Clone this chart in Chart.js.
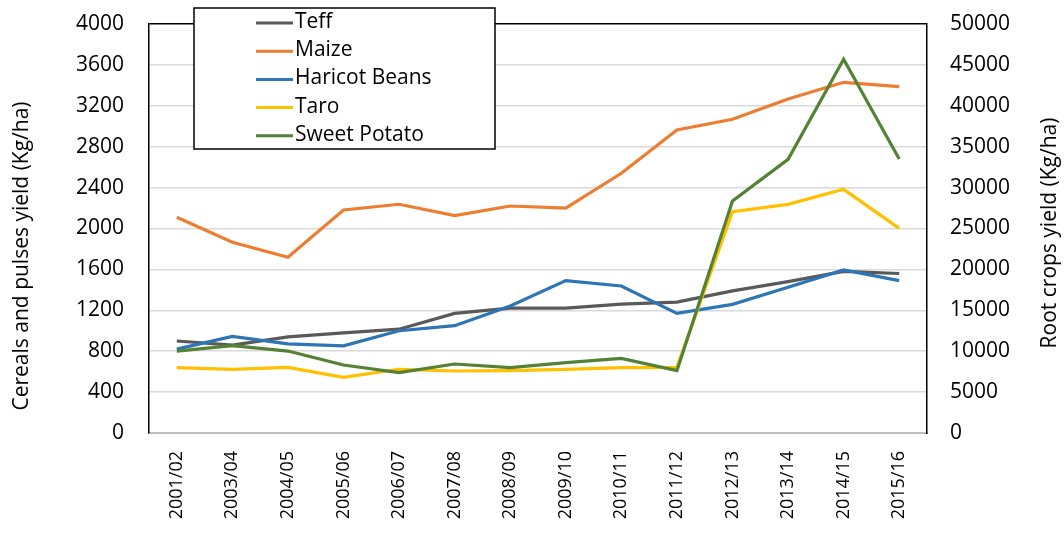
<!DOCTYPE html>
<html>
<head>
<meta charset="utf-8">
<script src="https://cdn.jsdelivr.net/npm/chart.js@4.4.1/dist/chart.umd.min.js"></script>
<style>
  body { margin: 0; background: #fff; }
</style>
</head>
<body>
<canvas id="yieldChart" width="1064" height="539"></canvas>
<script>
// seasons on the x axis
const seasons = ['2001/02', '2003/04', '2004/05', '2005/06', '2006/07', '2007/08', '2008/09',
  '2009/10', '2010/11', '2011/12', '2012/13', '2013/14', '2014/15', '2015/16'];

// cereals and pulses (left axis, Kg/ha)
const teff = [900, 860, 940, 980, 1015, 1170, 1222, 1222, 1260, 1280, 1390, 1480, 1580, 1560];
const maize = [2110, 1865, 1718, 2181, 2237, 2126, 2220, 2200, 2540, 2963, 3068, 3266, 3430, 3387];
const haricotBeans = [820, 945, 872, 852, 1000, 1050, 1242, 1490, 1438, 1170, 1258, 1425, 1594, 1490];

// root crops (right axis, Kg/ha)
const taro = [7980, 7790, 8030, 6810, 7790, 7580, 7620, 7790, 7980, 8030, 27050, 27950, 29790, 25020];
const sweetPotato = [10020, 10670, 10020, 8310, 7380, 8435, 7983, 8600, 9130, 7620, 28360, 33450, 45680, 33500];

const FONT = "'Open Sans', sans-serif";

const line = (label, data, color, axis, order) => ({
  label, data, yAxisID: axis, order,
  borderColor: color, backgroundColor: color,
  borderWidth: 3.2, pointRadius: 0, tension: 0, fill: false
});

// boxed legend sitting over the top of the plot
const legendBox = {
  id: 'legendBox',
  afterDraw(chart) {
    const { ctx, chartArea } = chart;
    const x = chartArea.left + 45, y = chartArea.top - 16;
    const w = 301, h = 141;
    ctx.save();
    ctx.fillStyle = '#fff';
    ctx.fillRect(x, y, w, h);
    ctx.strokeStyle = '#000';
    ctx.lineWidth = 1.5;
    ctx.strokeRect(x, y, w, h);
    ctx.font = '21px ' + FONT;
    ctx.textBaseline = 'middle';
    ctx.textAlign = 'left';
    chart.data.datasets.forEach((ds, i) => {
      const rowY = y + 15 + i * 28.2;
      ctx.strokeStyle = ds.borderColor;
      ctx.lineWidth = 3;
      ctx.beginPath();
      ctx.moveTo(x + 62, rowY);
      ctx.lineTo(x + 99, rowY);
      ctx.stroke();
      ctx.fillStyle = '#000';
      ctx.fillText(ds.label, x + 101, rowY - 1);
    });
    ctx.restore();
  }
};

// axis titles, placed like the original
const axisTitles = {
  id: 'axisTitles',
  afterDraw(chart) {
    const { ctx } = chart;
    const draw = (text, x, y) => {
      ctx.save();
      ctx.font = '21px ' + FONT;
      ctx.fillStyle = '#000';
      ctx.textAlign = 'center';
      ctx.textBaseline = 'middle';
      ctx.translate(x, y);
      ctx.rotate(-Math.PI / 2);
      ctx.fillText(text, 0, 0);
      ctx.restore();
    };
    draw('Cereals and pulses yield (Kg/ha)', 22, 256);
    draw('Root crops yield (Kg/ha)', 1050, 233);
  }
};

new Chart(document.getElementById('yieldChart'), {
  type: 'line',
  data: {
    labels: seasons,
    datasets: [
      line('Teff', teff, '#595959', 'y', 4),
      line('Maize', maize, '#ED7D31', 'y', 3),
      line('Haricot Beans', haricotBeans, '#2E75B6', 'y', 2),
      line('Taro', taro, '#FFC000', 'y1', 1),
      line('Sweet Potato', sweetPotato, '#548235', 'y1', 0)
    ]
  },
  options: {
    responsive: false,
    animation: false,
    layout: { padding: { top: 24 } },
    plugins: {
      legend: { display: false },
      tooltip: { enabled: false }
    },
    scales: {
      x: {
        offset: true,
        grid: { display: false, drawTicks: false },
        border: { color: '#bfbfbf', width: 2 },
        ticks: {
          color: '#000',
          font: { family: FONT, size: 18 },
          minRotation: 90,
          maxRotation: 90,
          padding: 18,
          autoSkip: false
        },
        afterFit: s => { s.height = 106; s.paddingLeft = 0; s.paddingRight = 0; }
      },
      y: {
        position: 'left',
        min: 0,
        max: 4000,
        ticks: {
          stepSize: 400,
          color: '#000',
          font: { family: FONT, size: 21 },
          padding: 25,
          callback: v => String(v)
        },
        grid: {
          drawTicks: false,
          lineWidth: 1.5,
          color: c => c.tick.value === 4000 ? '#000' : (c.tick.value === 0 ? '#bfbfbf' : '#d9d9d9')
        },
        border: { color: '#000', width: 1.5 },
        afterFit: s => { s.width = 149; s.paddingTop = 0; s.paddingBottom = 0; }
      },
      y1: {
        position: 'right',
        min: 0,
        max: 50000,
        ticks: {
          stepSize: 5000,
          color: '#000',
          font: { family: FONT, size: 21 },
          padding: 23,
          callback: v => String(v)
        },
        grid: { drawOnChartArea: false, drawTicks: false },
        border: { color: '#000', width: 1.5 },
        afterFit: s => { s.width = 137; s.paddingTop = 0; s.paddingBottom = 0; }
      }
    }
  },
  plugins: [legendBox, axisTitles]
});
</script>
</body>
</html>
